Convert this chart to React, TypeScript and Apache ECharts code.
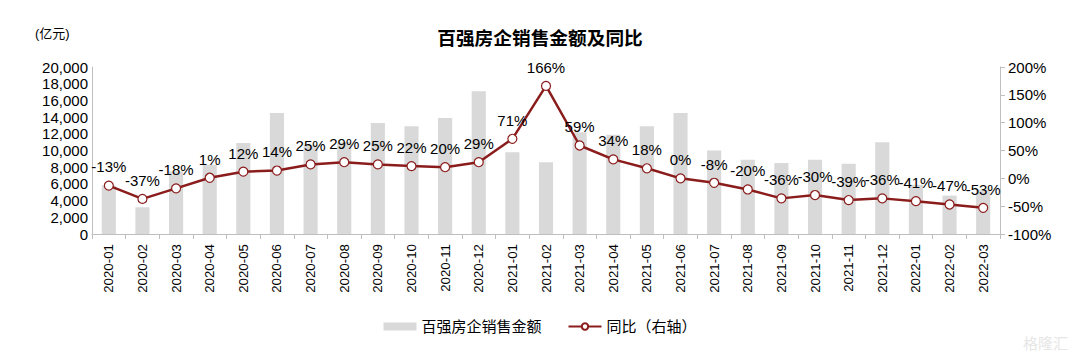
import React, { useEffect, useRef } from "react";
import * as echarts from "echarts";

const categories = [
  "2020-01", "2020-02", "2020-03", "2020-04", "2020-05", "2020-06", "2020-07", "2020-08", "2020-09",
  "2020-10", "2020-11", "2020-12", "2021-01", "2021-02", "2021-03", "2021-04", "2021-05", "2021-06",
  "2021-07", "2021-08", "2021-09", "2021-10", "2021-11", "2021-12", "2022-01", "2022-02", "2022-03",
];
const salesAmount = [
  5800, 3200, 7500, 8300, 10900, 14500, 10700, 11000, 13300,
  12900, 13900, 17100, 9800, 8600, 12200, 11900, 12900, 14500,
  10000, 8900, 8500, 8900, 8400, 11000, 5900, 4600, 5300,
];
const yoyPercent = [
  -13, -37, -18, 1, 12, 14, 25, 29, 25,
  22, 20, 29, 71, 166, 59, 34, 18, 0,
  -8, -20, -36, -30, -39, -36, -41, -47, -53,
];
const leftTicks = { min: 0, max: 20000, interval: 2000 };
const rightTicks = { min: -100, max: 200, interval: 50 };

const FONT = "Arial, 'Liberation Sans', 'Noto Sans CJK SC', sans-serif";
const AXIS_COLOR = "#BFBFBF";

export default function App() {
  const ref = useRef<HTMLDivElement>(null);
  useEffect(() => {
    if (!ref.current) return;
    const chart = echarts.init(ref.current, null, { renderer: "svg" });
    chart.setOption({
      animation: false,
      backgroundColor: "#ffffff",
      textStyle: { fontFamily: FONT },
      title: {
        text: "百强房企销售金额及同比",
        left: "center",
        top: 24,
        textStyle: { fontSize: 18.7, fontWeight: "bold", color: "#000", fontFamily: FONT },
      },
      graphic: [
        {
          type: "text",
          left: 35,
          top: 27,
          style: { text: "(亿元)", fontSize: 13, fill: "#000", fontFamily: FONT },
        },
        {
          type: "text",
          right: 12,
          bottom: 8,
          style: { text: "格隆汇", fontSize: 15, fill: "#E6E6E6", fontFamily: FONT },
        },
      ],
      legend: {
        bottom: 20,
        left: "center",
        itemGap: 26,
        itemWidth: 33,
        itemHeight: 8,
        textStyle: { fontSize: 15, color: "#000", fontFamily: FONT },
        data: [
          { name: "百强房企销售金额", icon: "rect" },
          { name: "同比（右轴）" },
        ],
      },
      grid: { left: 92, right: 80, top: 67, bottom: 125, containLabel: false },
      xAxis: {
        type: "category",
        data: categories,
        boundaryGap: true,
        axisLine: { lineStyle: { color: AXIS_COLOR, width: 1 } },
        axisTick: { show: true, alignWithLabel: false, length: 5, lineStyle: { color: AXIS_COLOR } },
        axisLabel: { rotate: 90, fontSize: 13.3, color: "#000", margin: 10, interval: 0, fontFamily: FONT },
      },
      yAxis: [
        {
          type: "value",
          min: leftTicks.min,
          max: leftTicks.max,
          interval: leftTicks.interval,
          axisLine: { show: true, lineStyle: { color: AXIS_COLOR } },
          axisTick: { show: false },
          splitLine: { show: false },
          axisLabel: {
            fontSize: 15,
            color: "#000",
            margin: 4,
            fontFamily: FONT,
            formatter: (v: number) => v.toLocaleString("en-US"),
          },
        },
        {
          type: "value",
          min: rightTicks.min,
          max: rightTicks.max,
          interval: rightTicks.interval,
          position: "right",
          axisLine: { show: true, lineStyle: { color: AXIS_COLOR } },
          axisTick: { show: true, length: 5, lineStyle: { color: AXIS_COLOR } },
          splitLine: { show: false },
          axisLabel: { fontSize: 15, color: "#000", margin: 8, fontFamily: FONT, formatter: "{value}%" },
        },
      ],
      series: [
        {
          name: "百强房企销售金额",
          type: "bar",
          data: salesAmount,
          barWidth: "42%",
          itemStyle: { color: "#D9D9D9" },
          yAxisIndex: 0,
        },
        {
          name: "同比（右轴）",
          type: "line",
          data: yoyPercent,
          yAxisIndex: 1,
          symbol: "circle",
          symbolSize: 9,
          lineStyle: { color: "#8B1C1C", width: 2.5 },
          itemStyle: { color: "#ffffff", borderColor: "#8B1C1C", borderWidth: 1.2 },
          label: {
            show: true,
            position: "top",
            distance: 6,
            fontSize: 15,
            color: "#000",
            fontFamily: FONT,
            formatter: "{c}%",
          },
        },
      ],
    });
    return () => chart.dispose();
  }, []);
  return <div ref={ref} style={{ width: 1080, height: 359, margin: -8 }} />;
}
